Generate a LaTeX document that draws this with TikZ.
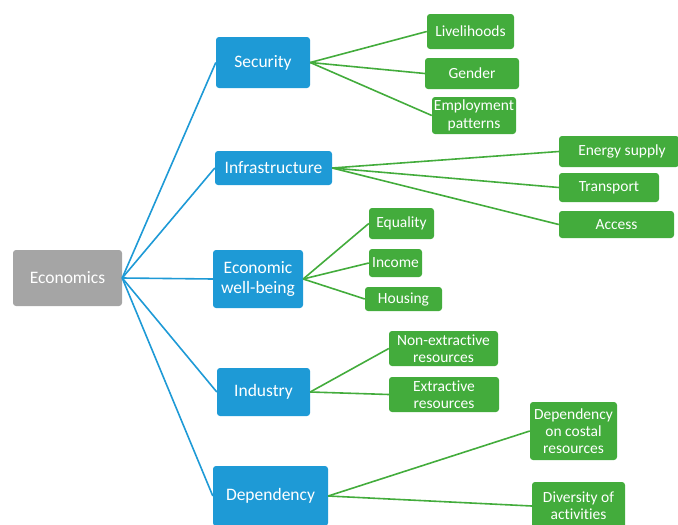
\documentclass[tikz,border=0pt]{standalone}
\usepackage{fontspec}
\setsansfont{Carlito}[Ligatures=NoCommon]
\usetikzlibrary{positioning}
\definecolor{rootcolor}{RGB}{165,165,165}
\definecolor{topiccolor}{RGB}{30,154,214}
\definecolor{itemcolor}{RGB}{67,172,60}
\tikzset{
  %% root : the root of the tree
  root/.style={
    rectangle,
    rounded corners=3pt,
    fill=rootcolor,
    text=white,
    inner sep=0pt,
    font=\fontsize{17.5}{19.5}\selectfont,
    align=center
  },
  %% topic : a blue topic box
  topic/.style={
    rectangle,
    rounded corners=3pt,
    fill=topiccolor,
    text=white,
    inner sep=0pt,
    font=\fontsize{17.5}{19.5}\selectfont,
    align=center
  },
  %% item : a green item box
  item/.style={
    rectangle,
    rounded corners=3pt,
    fill=itemcolor,
    text=white,
    inner sep=0pt,
    font=\fontsize{15.5}{17.3}\selectfont,
    align=center
  },
  %% topicline : root to topic
  topicline/.style={topiccolor, line width=1.6pt},
  %% itemline : topic to item
  itemline/.style={itemcolor, line width=1.6pt}
}
\begin{document}
\begin{tikzpicture}
  [x=1pt,
  y=-1pt]
  \sffamily
  \useasboundingbox (0,0) rectangle (678,525);

  %% Root
  \node (economics) [root, minimum width=109pt, minimum height=56pt]
    at (67.5,278) {Economics};

  %% Topics
  \node (security) [topic, minimum width=94pt, minimum height=51pt]
    at (263,62.5) {Security};
  \node (infra) [topic, minimum width=117pt, minimum height=34pt]
    at (273.5,168) {Infrastructure};
  \node (wellbeing) [topic, minimum width=90pt, minimum height=58pt]
    at (258,279) {Economic\\ well-being};
  \node (industry) [topic, minimum width=93pt, minimum height=48pt]
    at (263.5,392) {Industry};
  \node (dependency) [topic, minimum width=115pt, minimum height=60pt]
    at (270.5,496) {Dependency};

  %% Items of security
  \node (livelihoods) [item, minimum width=87pt, minimum height=35pt]
    at (470.5,31.5) {Livelihoods};
  \node (gender) [item, minimum width=94pt, minimum height=31pt]
    at (472,73.5) {Gender};
  \node (employment) [item, minimum width=84pt, minimum height=37pt]
    at (474,115.5) {Employment\\ patterns};

  %% Items of infrastructure
  \node (energy) [item, minimum width=120pt, minimum height=31pt]
    at (619,151.5) {\hspace*{6pt}Energy supply};
  \node (transport) [item, minimum width=100pt, minimum height=29pt]
    at (609,187.5) {Transport};
  \node (access) [item, minimum width=115pt, minimum height=27pt]
    at (616.5,224.5) {Access};

  %% Items of economic well-being
  \node (equality) [item, minimum width=65pt, minimum height=31pt]
    at (401.5,223.5) {Equality};
  \node (income) [item, minimum width=53pt, minimum height=28pt]
    at (395.5,263) {Income};
  \node (housing) [item, minimum width=77pt, minimum height=24pt]
    at (403.5,299) {Housing};

  %% Items of industry
  \node (nonextractive) [item, minimum width=109pt, minimum height=35pt]
    at (443.5,348.5) {Non-extractive\\ resources};
  \node (extractive) [item, minimum width=110pt, minimum height=35pt]
    at (444,394.5) {Extractive\\ resources};

  %% Items of dependency
  \node (costal) [item, minimum width=87pt, minimum height=58pt]
    at (573.5,431) {Dependency\\ on costal\\ resources};
  \node (diversity) [item, minimum width=93pt, minimum height=48pt]
    at (578.5,506) {Diversity of\\ activities};

  %% Connections
  \foreach \t in {security, infra, wellbeing, industry, dependency}
    \draw [topicline] (economics.east) -- (\t.west);

  \foreach \i in {livelihoods, gender, employment}
    \draw [itemline] (security.east) -- (\i.west);
  \foreach \i in {energy, transport, access}
    \draw [itemline] (infra.east) -- (\i.west);
  \foreach \i in {equality, income, housing}
    \draw [itemline] (wellbeing.east) -- (\i.west);
  \foreach \i in {nonextractive, extractive}
    \draw [itemline] (industry.east) -- (\i.west);
  \foreach \i in {costal, diversity}
    \draw [itemline] (dependency.east) -- (\i.west);

\end{tikzpicture}
\end{document}
